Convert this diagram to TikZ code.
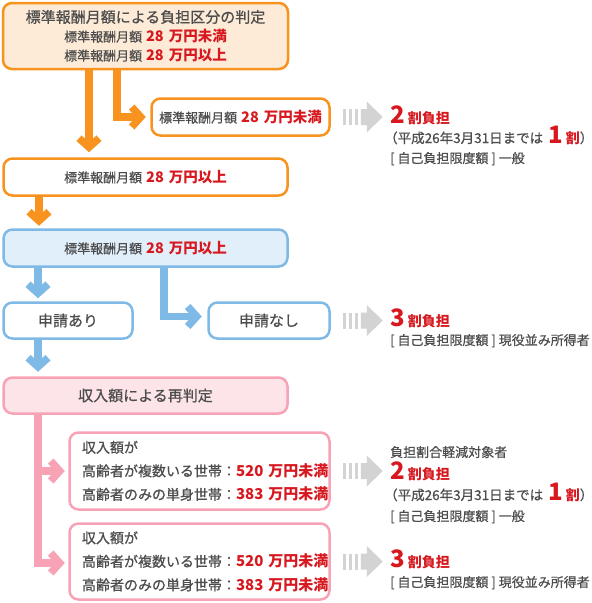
\documentclass[tikz,border=0pt]{standalone}
\usepackage{fontspec}
\setmainfont{Noto Sans CJK JP}
\newfontfamily\greyfont{Noto Sans CJK JP}[FakeBold=0.7]
\usetikzlibrary{arrows.meta}
\definecolor{orangeline}{HTML}{F7931E}
\definecolor{orangefill}{HTML}{FDEBD7}
\definecolor{blueline}{HTML}{7FB9E6}
\definecolor{bluefill}{HTML}{E1EFFB}
\definecolor{pinkline}{HTML}{F7A3B5}
\definecolor{pinkfill}{HTML}{FDE4E9}
\definecolor{greyarrow}{HTML}{D3D3D3}
\definecolor{textgrey}{HTML}{4D4D4D}
\definecolor{textred}{HTML}{D7191F}
\newcommand{\redtxt}[2][14]{{\normalfont\bfseries\color{textred}\fontsize{#1}{16}\selectfont #2}}

\begin{document}
\begin{tikzpicture}[x=1pt,y=-1pt,
  box/.style={draw,rounded corners=9pt,line width=2.5pt,fill=white,text=textgrey,
    inner sep=0pt,align=center,font=\greyfont\fontsize{13}{19}\selectfont},
  obox/.style={box,draw=orangeline},
  bbox/.style={box,draw=blueline},
  pbox/.style={box,draw=pinkline},
  flow/.style={line width=7.5pt,-{Straight Barb[length=9pt,width=20pt,sharp]}},
  res/.style={anchor=base west,inner sep=0pt,text=textgrey,font=\greyfont\fontsize{13}{16}\selectfont}]
\useasboundingbox (0,0) rectangle (592,603);
% BOXES
\node[obox,fill=orangefill,minimum width=285pt,minimum height=66pt] (judge) at (145.5,36)
  {{\fontsize{15}{19}\selectfont 標準報酬月額による負担区分の判定}\\
   標準報酬月額\hspace{4pt}\redtxt[14.5]{28\hspace{5pt}万円未満}\\
   標準報酬月額\hspace{4pt}\redtxt[14.5]{28\hspace{5pt}万円以上}};
\node[obox,minimum width=178pt,minimum height=37pt] (under) at (240.5,117)
  {標準報酬月額\hspace{4pt}\redtxt[14.5]{28\hspace{5pt}万円未満}};
\node[obox,minimum width=284pt,minimum height=37pt] (over) at (145.5,177)
  {標準報酬月額\hspace{4pt}\redtxt[14.5]{28\hspace{5pt}万円以上}};

\node[bbox,fill=bluefill,minimum width=284pt,minimum height=37pt] (overb) at (145.5,248)
  {標準報酬月額\hspace{4pt}\redtxt[14.5]{28\hspace{5pt}万円以上}};
\node[bbox,font=\greyfont\fontsize{15}{19}\selectfont,minimum width=129pt,minimum height=36pt] (apply) at (68,320.5)
  {申請あり};
\node[bbox,font=\greyfont\fontsize{15}{19}\selectfont,minimum width=121pt,minimum height=36pt] (noapply) at (269,320.5)
  {申請なし};

\node[pbox,fill=pinkfill,font=\greyfont\fontsize{15}{19}\selectfont,minimum width=284pt,minimum height=36pt] (income) at (145.5,395.5)
  {収入額による再判定};
\node[pbox,align=left,text width=235pt,font=\greyfont\fontsize{14}{23.5}\selectfont,minimum width=260pt,minimum height=77pt] (lowinc) at (199.5,471)
  {\mbox{収入額が}\\
   \mbox{高齢者が複数いる世帯：\redtxt[15]{520\hspace{5pt}万円未満}}\\
   \mbox{高齢者のみの単身世帯：\redtxt[15]{383\hspace{5pt}万円未満}}};
\node[pbox,align=left,text width=235pt,font=\greyfont\fontsize{14}{23.5}\selectfont,minimum width=260pt,minimum height=76pt] (highinc) at (199.5,561.5)
  {\mbox{収入額が}\\
   \mbox{高齢者が複数いる世帯：\redtxt[15]{520\hspace{5pt}万円未満}}\\
   \mbox{高齢者のみの単身世帯：\redtxt[15]{383\hspace{5pt}万円未満}}};
% FLOW ARROWS
\draw[flow,orangeline,shorten >=5pt] ([xshift=-56.5pt]judge.south) -- ([xshift=-56.5pt]over.north);
\draw[flow,orangeline,shorten >=4.5pt] ([xshift=-28.5pt]judge.south) |- (under.west);
\draw[flow,orangeline,shorten >=2.5pt] ([xshift=-106.5pt]over.south) -- ([xshift=-106.5pt]overb.north);

\draw[flow,blueline,shorten >=3pt] ([xshift=-107.5pt]overb.south) -- ([xshift=-30pt]apply.north);
\draw[flow,blueline,shorten >=5.5pt] ([xshift=18.5pt]overb.south) |- ([yshift=4pt]noapply.west);
\draw[flow,blueline,shorten >=4.5pt] ([xshift=-30pt]apply.south) -- ([xshift=-107.5pt]income.north);

\draw[flow,pinkline,shorten >=3.5pt] ([xshift=-107.5pt]income.south) |- (lowinc.west);
\draw[flow,pinkline,shorten >=3.5pt] ([xshift=-107.5pt]income.south) |- ([yshift=-1.5pt]highinc.west);
% GREY ARROWS
\foreach \b in {under,noapply,lowinc,highinc}{
  \fill[greyarrow] ([xshift=12pt,yshift=8pt]\b.east) rectangle ++(3.5,16);
  \fill[greyarrow] ([xshift=18pt,yshift=8pt]\b.east) rectangle ++(3.5,16);
  \fill[greyarrow] ([xshift=24pt,yshift=8pt]\b.east) rectangle ++(3.5,16);
  \fill[greyarrow] ([xshift=30pt,yshift=8pt]\b.east) -- ++(6,0) -- ++(0,-7.5) -- ++(16,15.5)
    -- ++(-16,15.5) -- ++(0,-7.5) -- ++(-6,0) -- cycle;
}
% RESULTS
\node[res] (rate2) at (390,123.5)
  {\redtxt[24]{2}\hspace{3pt}\redtxt{割負担}};
\node[res,font=\greyfont\fontsize{13.5}{16}\selectfont] (until2) at (384,143)
  {（平成26年3月31日までは\hspace{5pt}\redtxt[24]{1}\hspace{3pt}\redtxt{割}）};
\node[res] (limit2) at (390,163) {[ 自己負担限度額 ] 一般};

\node[res] (rate3) at (390,326.5)
  {\redtxt[24]{3}\hspace{3pt}\redtxt{割負担}};
\node[res] (limit3) at (390,345) {[ 自己負担限度額 ] 現役並み所得者};

\node[res] (reduce) at (390,457) {負担割合軽減対象者};
\node[res] (rate2b) at (390,479.5)
  {\redtxt[24]{2}\hspace{3pt}\redtxt{割負担}};
\node[res,font=\greyfont\fontsize{13.5}{16}\selectfont] (until2b) at (384,500)
  {（平成26年3月31日までは\hspace{5pt}\redtxt[24]{1}\hspace{3pt}\redtxt{割}）};
\node[res] (limit2b) at (390,521) {[ 自己負担限度額 ] 一般};

\node[res] (rate3b) at (390,567.5)
  {\redtxt[24]{3}\hspace{3pt}\redtxt{割負担}};
\node[res] (limit3b) at (390,587) {[ 自己負担限度額 ] 現役並み所得者};
\end{tikzpicture}
\end{document}
